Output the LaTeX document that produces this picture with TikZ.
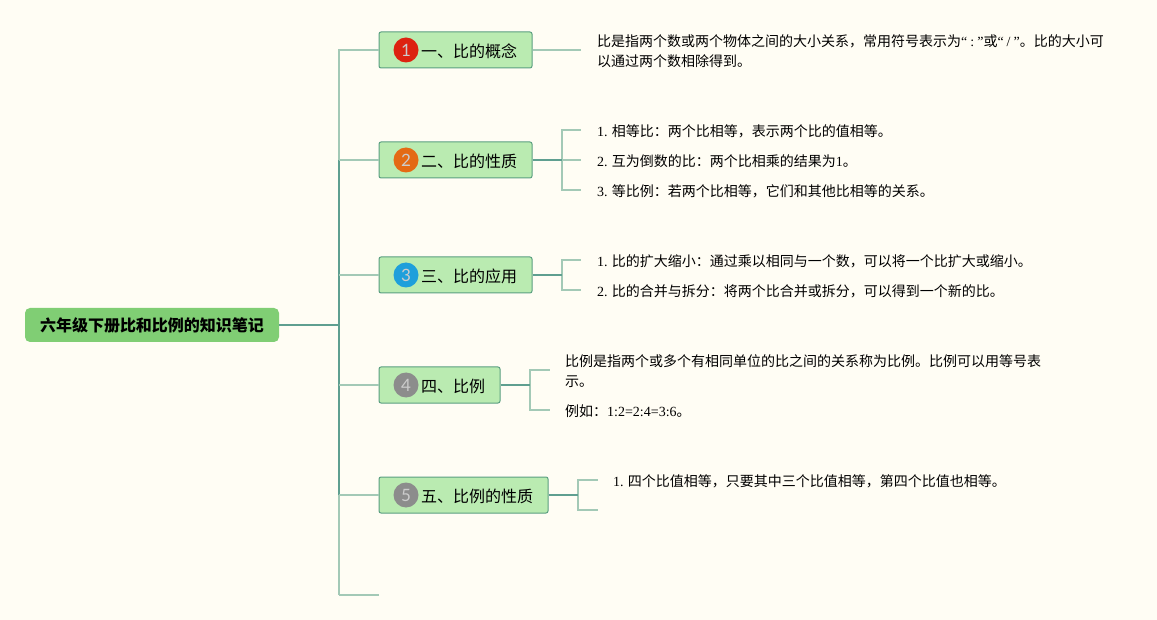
\documentclass[tikz,border=0pt]{standalone}
\usepackage{fontspec}
\usepackage{xcolor}
\usetikzlibrary{
    calc,
    positioning
}
\setmainfont{Liberation Serif}
\newfontfamily\cjk{Noto Sans CJK SC}
\newfontfamily\numfont{Lato}
\definecolor{paperbg}{HTML}{FFFDF4}
\definecolor{rootgreen}{HTML}{80CE74}
\definecolor{topicgreen}{HTML}{BAEBB1}
\definecolor{topicline}{HTML}{5A9F80}
\definecolor{stemline}{HTML}{5F9F90}
\definecolor{twigline}{HTML}{A3C9B6}
\definecolor{iconred}{HTML}{DD2210}
\definecolor{iconorange}{HTML}{E46A14}
\definecolor{iconblue}{HTML}{1E9FDB}
\definecolor{icongray}{HTML}{8C8C8C}
\tikzset{
    rootbox/.style={rounded corners=5pt, fill=rootgreen, minimum width=254pt, minimum height=34pt, inner sep=0pt, font=\fontsize{16}{20}\selectfont\cjk\bfseries},
    topicbox/.style={rounded corners=2pt, draw=topicline, fill=topicgreen, line width=1pt, minimum height=36pt, inner sep=0pt},
    topictext/.style={inner sep=0pt, anchor=west, font=\fontsize{16}{20}\selectfont\cjk},
    iconball/.style={circle, minimum size=25pt, inner sep=0pt, text=white!80!black, font=\fontsize{17}{20}\selectfont\numfont},
    notetext/.style={anchor=west, inner ysep=0pt, inner xsep=16pt, align=left, font=\fontsize{14}{20}\selectfont\cjk},
    stem/.style={line width=2pt, stemline},
    twig/.style={line width=1.5pt, twigline}
}
\newcommand{\lt}[1]{{\rmfamily #1}}

\begin{document}
\begin{tikzpicture}[x=1pt, y=-1pt]
    \fill[paperbg] (0, 0) rectangle (1157, 620);
    \useasboundingbox (0, 0) rectangle (1157, 620);

    \node[rootbox] (root) at (152, 325) {六年级下册比和比例的知识笔记};

    % topics
    \node[topicbox, minimum width=153pt] (topicA) at (455.5, 50) {};
    \node[topicbox, minimum width=153pt] (topicB) at (455.5, 160) {};
    \node[topicbox, minimum width=153pt] (topicC) at (455.5, 275) {};
    \node[topicbox, minimum width=121pt] (topicD) at (439.5, 385) {};
    \node[topicbox, minimum width=169pt] (topicE) at (463.5, 495) {};

    \node[iconball, fill=iconred] (iconA) at (406, 50) {1};
    \node[iconball, fill=iconorange] (iconB) at (406, 160) {2};
    \node[iconball, fill=iconblue] (iconC) at (406, 275) {3};
    \node[iconball, fill=icongray] (iconD) at (406, 385) {4};
    \node[iconball, fill=icongray] (iconE) at (406, 495) {5};

    \node[topictext] (labelA) at (421, 51) {一、比的概念};
    \node[topictext] (labelB) at (421, 161) {二、比的性质};
    \node[topictext] (labelC) at (421, 276) {三、比的应用};
    \node[topictext] (labelD) at (421, 386) {四、比例};
    \node[topictext] (labelE) at (421, 496) {五、比例的性质};

    % notes
    \node[notetext] (noteA) at (581, 51) {比是指两个数或两个物体之间的大小关系，常用符号表示为\lt{“\hspace{3pt}:\hspace{3pt}”}或\lt{“\hspace{3pt}/\hspace{3pt}”}。比的大小可\\以通过两个数相除得到。};
    \node[notetext] (noteBa) at (581, 131) {\lt{1.} 相等比：两个比相等，表示两个比的值相等。};
    \node[notetext] (noteBb) at (581, 161) {\lt{2.} 互为倒数的比：两个比相乘的结果为\lt{1}。};
    \node[notetext] (noteBc) at (581, 191) {\lt{3.} 等比例：若两个比相等，它们和其他比相等的关系。};
    \node[notetext] (noteCa) at (581, 261) {\lt{1.} 比的扩大缩小：通过乘以相同与一个数，可以将一个比扩大或缩小。};
    \node[notetext] (noteCb) at (581, 291) {\lt{2.} 比的合并与拆分：将两个比合并或拆分，可以得到一个新的比。};
    \node[notetext, inner xsep=15pt] (noteDa) at (550, 371) {比例是指两个或多个有相同单位的比之间的关系称为比例。比例可以用等号表\\示。};
    \node[notetext, inner xsep=15pt] (noteDb) at (550, 411) {例如：\lt{1:2=2:4=3:6}。};
    \node[notetext, inner xsep=15pt] (noteEa) at (598, 481) {\lt{1.} 四个比值相等，只要其中三个比值相等，第四个比值也相等。};

    \coordinate (spine) at (339, 325);
    \coordinate (spineTop) at (339, 50);
    \coordinate (spineBot) at (339, 595);
    \coordinate (tail) at (379, 595);
    \coordinate (endE) at (598, 510);
    \coordinate (forkB) at (562, 160);
    \coordinate (forkC) at (562, 275);
    \coordinate (forkD) at (530, 385);
    \coordinate (forkE) at (578, 495);

    % main branches
    \draw[twig] (topicA.west) -| (spineTop) -- (339, 160);
    \draw[twig] (spineBot) -- (339, 495);
    \draw[twig] (tail) -- (spineBot);
    \draw[stem] (339, 160) -- (339, 495);
    \draw[stem] (root.east) -- (spine);
    \draw[twig] (topicB.west) -- (339, 160);
    \draw[twig] (topicC.west) -- (339, 275);
    \draw[twig] (topicD.west) -- (339, 385);
    \draw[twig] (topicE.west) -- (339, 495);

    % sub branches
    \draw[twig] (topicA.east) -- (noteA.west |- topicA.east);
    \draw[twig] (forkB) |- (noteBa.west |- 0, 130);
    \draw[twig] (forkB) -- (noteBb.west |- forkB);
    \draw[twig] (forkB) |- (noteBc.west |- 0, 190);
    \draw[twig] (forkC) |- (noteCa.west |- 0, 260);
    \draw[twig] (forkC) |- (noteCb.west |- 0, 290);
    \draw[twig] (forkD) |- (noteDa.west |- 0, 370);
    \draw[twig] (forkD) |- (noteDb.west |- 0, 410);
    \draw[twig] (forkE) |- (noteEa.west |- 0, 480);
    \draw[twig] (forkE) |- (endE);
    \draw[stem] (topicB.east) -- (forkB);
    \draw[stem] (topicC.east) -- (forkC);
    \draw[stem] (topicD.east) -- (forkD);
    \draw[stem] (topicE.east) -- (forkE);
\end{tikzpicture}
\end{document}
